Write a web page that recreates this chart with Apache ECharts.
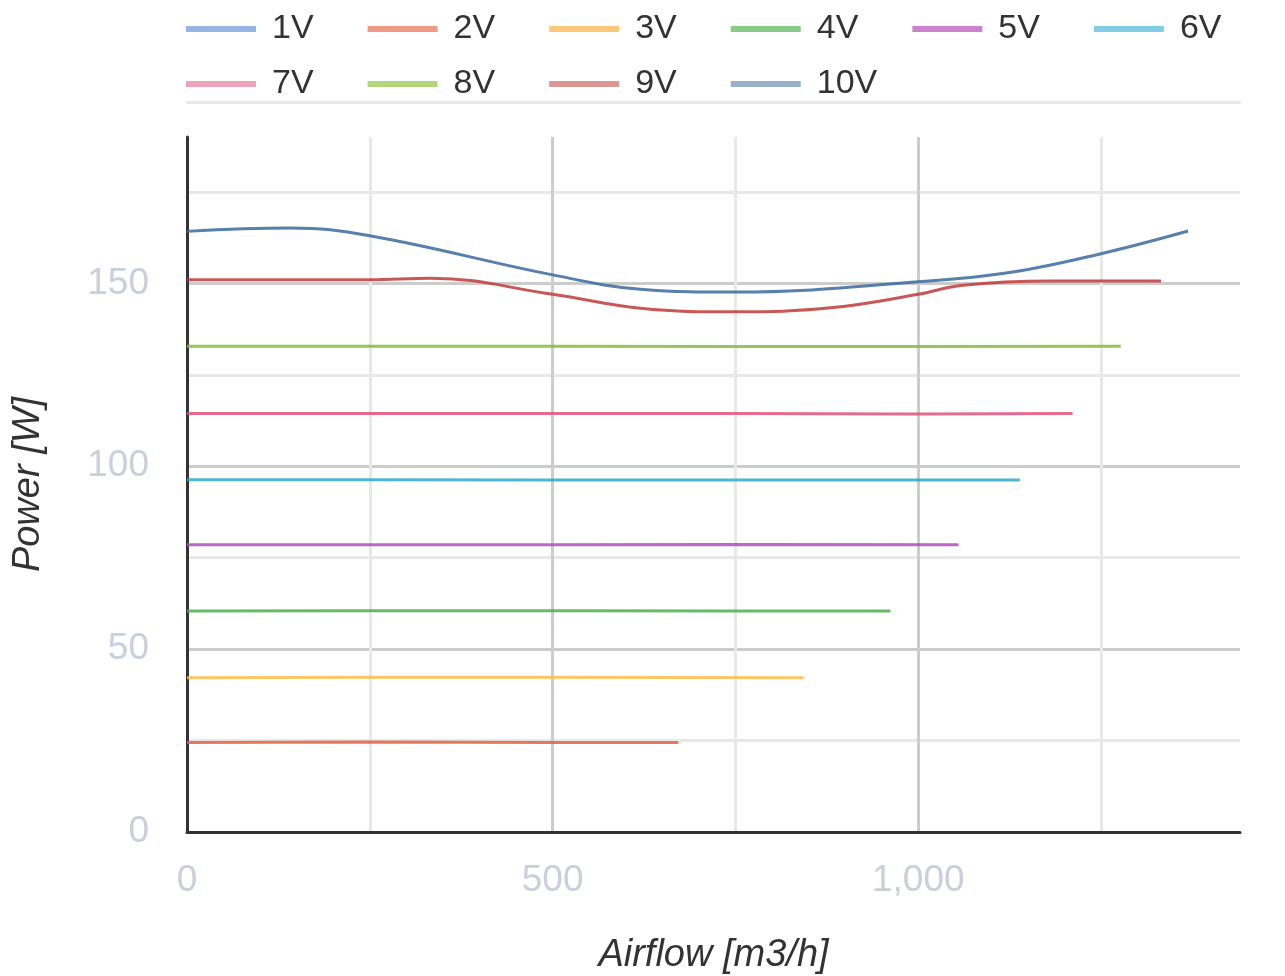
<!DOCTYPE html>
<html><head><meta charset="utf-8">
<script src="https://cdn.jsdelivr.net/npm/echarts@6/dist/echarts.min.js"></script>
<style>html,body{margin:0;padding:0;background:#fff}#c{width:1285px;height:976px}</style>
</head><body><div id="c"></div>
<script>
// ---- data ----
const seriesNames = ['1V','2V','3V','4V','5V','6V','7V','8V','9V','10V'];
const s1V  = [];
const s2V  = [[0,24.5],[250,24.6],[500,24.5],[672,24.5]];
const s3V  = [[0,42.2],[250,42.3],[500,42.3],[843,42.2]];
const s4V  = [[0,60.4],[250,60.5],[500,60.5],[750,60.4],[962,60.4]];
const s5V  = [[0,78.5],[250,78.5],[500,78.5],[750,78.6],[1055,78.5]];
const s6V  = [[0,96.3],[250,96.3],[500,96.2],[750,96.2],[1139,96.2]];
const s7V  = [[0,114.4],[250,114.4],[500,114.4],[750,114.4],[1000,114.3],[1211,114.4]];
const s8V  = [[0,132.8],[250,132.8],[500,132.8],[750,132.7],[1000,132.7],[1277,132.8]];
const s9V  = [[0,151],[250,151],[333,151.4],[500,147],[620,143.2],[751,142.2],[880,143.3],[1000,147],[1058,149.4],[1181,150.6],[1332,150.6]];
const s10V = [[0,164.2],[141,165.1],[250,163],[500,152.3],[620,148.4],[751,147.6],[1000,150.4],[1127,153],[1254,158.3],[1369,164.3]];
const seriesData = [s1V,s2V,s3V,s4V,s5V,s6V,s7V,s8V,s9V,s10V];
const xMax = 1440, yMax = 190;

// ---- styles ----
const legendColors = ['#98b4e4','#ee9a86','#fec87a','#8acb8a','#cc82cc','#82cce4','#eea2bc','#b2d67c','#dc9694','#98b2cc'];
const lineColors   = ['#5b82d0','#e0613f','#fdbb48','#4cae50','#b04cb8','#2fa8d0','#e0507c','#86bb3c','#c13a3a','#3a6a9e'];

const chart = echarts.init(document.getElementById('c'));
const font = "'Liberation Sans', Arial, sans-serif";
function legendCfg(names, offset, top){
  return {
    data: names.map((n,i)=>({name:n, itemStyle:{color:legendColors[offset+i]}})),
    left: 181, top: top, orient:'horizontal', icon:'rect',
    itemWidth: 70, itemHeight: 6, itemGap: 54,
    textStyle:{fontSize:34, color:'#333', fontFamily:font, padding:[0,0,0,11]}
  };
}
chart.setOption({
  animation:false,
  textStyle:{fontFamily:font},
  legend:[legendCfg(seriesNames.slice(0,6),0,7), legendCfg(seriesNames.slice(6),6,62)],
  graphic:[{type:'rect', shape:{x:186,y:101,width:1055,height:3}, style:{fill:'#e8e8e8'}, silent:true}],
  grid:{left:187, right:45, top:137, bottom:144, containLabel:false, outerBoundsMode:'none'},
  xAxis:{
    type:'value', min:0, max:xMax, interval:250,
    name:'Airflow [m3/h]', nameLocation:'middle', nameGap:104,
    nameTextStyle:{fontSize:38, fontStyle:'italic', color:'#333', fontFamily:font},
    axisLine:{show:true, lineStyle:{color:'#333', width:3}},
    axisTick:{show:false},
    axisLabel:{fontSize:37, color:'#c9cfdd', margin:30, fontFamily:font,
      formatter:v=> v%500===0 ? v.toLocaleString('en-US') : ''},
    splitLine:{show:true, showMaxLine:false, lineStyle:{color:['#cccccc','#e8e8e8'], width:3}}
  },
  yAxis:{
    type:'value', min:0, max:yMax, interval:25,
    name:'Power [W]', nameLocation:'middle', nameGap:140,
    nameTextStyle:{fontSize:38, fontStyle:'italic', color:'#333', fontFamily:font},
    axisLine:{show:true, lineStyle:{color:'#333', width:3}},
    axisTick:{show:false},
    axisLabel:{fontSize:37, color:'#c9cfdd', margin:38, fontFamily:font,
      formatter:v=> v%50===0 ? String(v) : ''},
    splitLine:{show:true, showMaxLine:false, lineStyle:{color:['#cccccc','#e8e8e8'], width:3}}
  },
  series: seriesNames.map((n,i)=>({
    name:n, type:'line', data:seriesData[i], showSymbol:false, symbol:'none',
    smooth: i>=8 ? 0.4 : false,
    itemStyle:{color:legendColors[i]},
    lineStyle:{color:lineColors[i], width:3, opacity:0.85},
    z:3
  }))
});
</script></body></html>
